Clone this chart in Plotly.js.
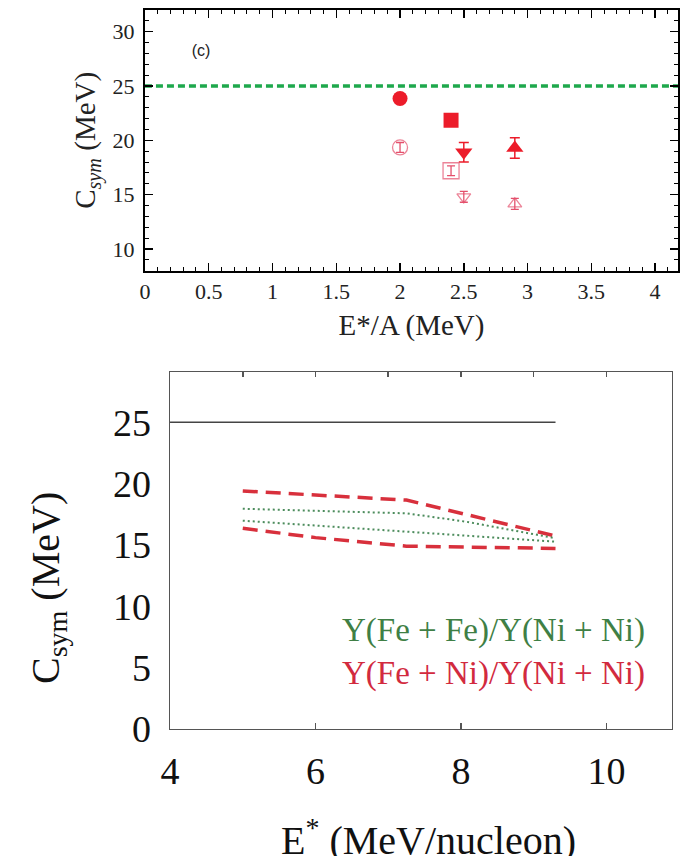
<!DOCTYPE html>
<html>
<head>
<meta charset="utf-8">
<script src="https://cdn.plot.ly/plotly-3.0.1.min.js"></script>
<style>html,body{margin:0;padding:0;background:#fff;}#chart{width:687px;height:856px;}</style>
</head>
<body>
<div id="chart"></div>
<script>
// ---- Panel (c): data points ----
const filledX = [2.0, 2.4, 2.5, 2.9];
const filledY = [23.85, 21.85, 18.9, 19.3];
const filledErr = [0.0, 0.0, 0.9, 0.95];
const filledSymbols = ['circle', 'square', 'triangle-down', 'triangle-up'];

const openX = [2.0, 2.4, 2.5, 2.9];
const openY = [19.35, 17.2, 14.8, 14.15];
const openErr = [0.45, 0.45, 0.5, 0.5];
const openSymbols = ['circle-open', 'square-open', 'triangle-down-open', 'triangle-up-open'];

const refLineX = [0, 4.18];
const refLineY = [25, 25];

const panelLabel = ['(c)'];
const panelLabelX = [0.44];
const panelLabelY = [28.1];

// ---- Lower panel: bands ----
const flatLineX = [4, 9.3];
const flatLineY = [25, 25];

const redUpperX = [5, 7.25, 9.3];
const redUpperY = [19.4, 18.66, 15.73];
const redLowerX = [5, 6, 7.25, 9.3];
const redLowerY = [16.36, 15.6, 14.9, 14.72];

const greenUpperX = [5, 7.25, 8.07, 9.3];
const greenUpperY = [17.95, 17.58, 16.9, 15.55];
const greenLowerX = [5, 7.25, 9.3];
const greenLowerY = [16.98, 16.08, 15.27];

const legendGreen = ['Y(Fe + Fe)/Y(Ni + Ni)'];
const legendRed = ['Y(Fe + Ni)/Y(Ni + Ni)'];
const legendX = [10.53];
const legendGreenY = [7.82];
const legendRedY = [4.32];

const bottomXTitle = 'E<sup>*</sup> (MeV/nucleon)';
const bottomYTitle = 'C<sub>sym</sub> (MeV)';

const serif = 'Liberation Serif';
const filledColor = '#ec1c2a';
const openColor = '#e4506c';

const traces = [
  {x: refLineX, y: refLineY, xaxis: 'x', yaxis: 'y', mode: 'lines',
   line: {color: '#1ea84c', width: 3.5, dash: '7px,4px'}, showlegend: false},
  {x: filledX, y: filledY, xaxis: 'x', yaxis: 'y', mode: 'markers',
   marker: {symbol: filledSymbols, size: 15, color: filledColor},
   error_y: {type: 'data', array: filledErr, visible: true, color: filledColor, thickness: 1.5, width: 5},
   showlegend: false},
  {x: openX, y: openY, xaxis: 'x', yaxis: 'y', mode: 'markers',
   marker: {symbol: openSymbols, size: [15, 16, 12, 12], color: openColor, line: {width: 1.3, color: openColor}},
   error_y: {type: 'data', array: openErr, visible: true, color: openColor, thickness: 1.3, width: 4},
   showlegend: false},
  {x: panelLabelX, y: panelLabelY, xaxis: 'x', yaxis: 'y', mode: 'text', text: panelLabel,
   textposition: 'middle center', textfont: {family: 'Liberation Sans', size: 16, color: '#222'}, showlegend: false},

  {x: flatLineX, y: flatLineY, xaxis: 'x2', yaxis: 'y2', mode: 'lines',
   line: {color: '#444', width: 1.5}, showlegend: false},
  {x: redUpperX, y: redUpperY, xaxis: 'x2', yaxis: 'y2', mode: 'lines',
   line: {color: '#d8303c', width: 3.5, dash: '15px,8px'}, showlegend: false},
  {x: redLowerX, y: redLowerY, xaxis: 'x2', yaxis: 'y2', mode: 'lines',
   line: {color: '#d8303c', width: 3.5, dash: '15px,8px'}, showlegend: false},
  {x: greenUpperX, y: greenUpperY, xaxis: 'x2', yaxis: 'y2', mode: 'lines',
   line: {color: '#4c8c5c', width: 2, dash: '2px,3px'}, showlegend: false},
  {x: greenLowerX, y: greenLowerY, xaxis: 'x2', yaxis: 'y2', mode: 'lines',
   line: {color: '#4c8c5c', width: 2, dash: '2px,3px'}, showlegend: false},
  {x: legendX, y: legendGreenY, xaxis: 'x2', yaxis: 'y2', mode: 'text', text: legendGreen,
   textposition: 'middle left', textfont: {family: serif, size: 33, color: '#3f7f45'}, showlegend: false},
  {x: legendX, y: legendRedY, xaxis: 'x2', yaxis: 'y2', mode: 'text', text: legendRed,
   textposition: 'middle left', textfont: {family: serif, size: 33, color: '#d22a3e'}, showlegend: false},
  {x: [5, 10], y: [-10, -10], xaxis: 'x3', yaxis: 'y2', mode: 'lines', showlegend: false}
];

const layout = {
  width: 687, height: 856,
  margin: {l: 0, r: 0, t: 0, b: 0},
  showlegend: false,
  xaxis: {
    domain: [0.211, 0.987], range: [0, 4.18], anchor: 'y',
    tickmode: 'linear', tick0: 0, dtick: 0.5,
    ticks: 'inside', ticklen: 8, tickwidth: 1.5, tickcolor: '#000',
    minor: {dtick: 0.1, tick0: 0, ticks: 'inside', ticklen: 4, tickwidth: 1, tickcolor: '#000', showgrid: false},
    showline: true, linecolor: '#000', linewidth: 2, mirror: 'allticks',
    showgrid: false, zeroline: false,
    tickfont: {family: serif, size: 22, color: '#222'}, ticklabelstandoff: 0,
    title: {text: 'E*/A (MeV)', font: {family: serif, size: 29, color: '#222'}, standoff: 12}
  },
  yaxis: {
    domain: [0.6838, 0.9883], range: [8.0, 32.0], anchor: 'x',
    tickmode: 'linear', tick0: 0, dtick: 5,
    ticks: 'inside', ticklen: 8, tickwidth: 1.5, tickcolor: '#000',
    minor: {dtick: 1, tick0: 0, ticks: 'inside', ticklen: 4, tickwidth: 1, tickcolor: '#000', showgrid: false},
    showline: true, linecolor: '#000', linewidth: 2, mirror: 'allticks',
    showgrid: false, zeroline: false,
    tickfont: {family: serif, size: 22, color: '#222'}, ticklabelstandoff: 4,
    title: {text: 'C<sub><i>sym</i></sub> (MeV)', font: {family: serif, size: 29, color: '#222'}, standoff: 8}
  },
  xaxis2: {
    domain: [0.2475, 0.978], range: [4, 10.9], anchor: 'y2',
    tickmode: 'linear', tick0: 4, dtick: 2,
    ticks: 'inside', ticklen: 6, tickwidth: 1.5, tickcolor: '#555',
    showline: true, linecolor: '#555', linewidth: 1.5, mirror: true,
    showgrid: false, zeroline: false,
    tickfont: {family: serif, size: 38, color: '#111'}, ticklabelstandoff: 8
  },
  xaxis3: {
    overlaying: 'x2', side: 'top', anchor: 'y2', range: [4, 10.9],
    tickmode: 'linear', tick0: 5, dtick: 1,
    ticks: 'inside', ticklen: 5, tickwidth: 1.5, tickcolor: '#555',
    showticklabels: false, showline: false, showgrid: false, zeroline: false
  },
  yaxis2: {
    domain: [0.1484, 0.5654], range: [0, 29.1], anchor: 'x2',
    tickmode: 'linear', tick0: 0, dtick: 5, ticks: '',
    showline: true, linecolor: '#555', linewidth: 1.5, mirror: true,
    showgrid: false, zeroline: false,
    tickfont: {family: serif, size: 38, color: '#111'}, ticklabelstandoff: 10
  },
  annotations: [
    {xref: 'paper', yref: 'paper', x: 428 / 687, y: 1 - 837 / 856, xanchor: 'center', yanchor: 'middle',
     text: bottomXTitle, showarrow: false, font: {family: serif, size: 40, color: '#111'}},
    {xref: 'paper', yref: 'paper', x: 48 / 687, y: 1 - 588 / 856, xanchor: 'center', yanchor: 'middle',
     textangle: -90, text: bottomYTitle, showarrow: false, font: {family: serif, size: 40, color: '#111'}}
  ]
};

Plotly.newPlot('chart', traces, layout, {staticPlot: true, displayModeBar: false});
</script>
</body>
</html>
